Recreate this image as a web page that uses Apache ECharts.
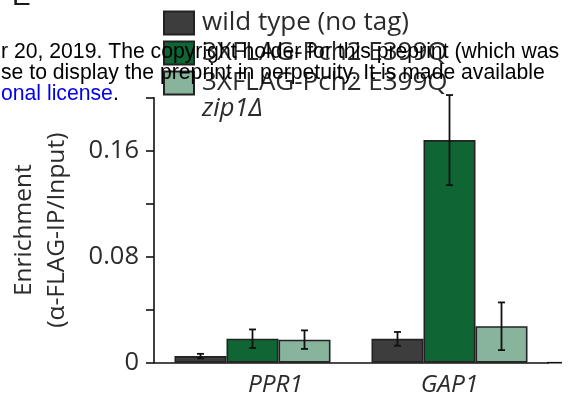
<!DOCTYPE html>
<html>
<head>
<meta charset="utf-8">
<script src="https://cdn.jsdelivr.net/npm/echarts@6/dist/echarts.min.js"></script>
<style>
html,body{margin:0;padding:0;background:#fff;}
#chart{width:574px;height:403px;}
</style>
</head>
<body>
<div id="chart"></div>
<script>
const categories = ['PPR1', 'GAP1'];
const seriesNames = ['wild type (no tag)', '3XFLAG-Pch2 E399Q', '3XFLAG-Pch2 E399Q'];
const wildTypeValues = [0.005, 0.018];
const wildTypeErrors = [0.0017, 0.0052];
const pch2Values = [0.0181, 0.168];
const pch2Errors = [0.007, 0.034];
const pch2Zip1Values = [0.0174, 0.0275];
const pch2Zip1Errors = [0.007, 0.018];
const yTickLabelValues = [0, 0.08, 0.16];
const yTickLabels = ['0', '0.08', '0.16'];

const colors = ['#3d3d3d', '#0f6534', '#88b49c'];
const BAR_W = 52;
const FONT = '"Open Sans"';
const TXT = '#2b2b2b';

const chart = echarts.init(document.getElementById('chart'), null, {renderer: 'canvas'});

function errSeries(values, errors, k) {
  return {
    type: 'custom',
    clip: false,
    silent: true,
    z: 5,
    data: values.map((v, i) => [i, v, errors[i]]),
    renderItem: function (params, api) {
      const cat = api.value(0), v = api.value(1), e = api.value(2);
      const c = api.coord([cat, v]);
      const x = c[0] + (k - 1) * BAR_W;
      const yt = api.coord([cat, v + e])[1];
      const yb = api.coord([cat, v - e])[1];
      const cap = 3.5;
      const st = {stroke: '#111', lineWidth: 1.8};
      return {
        type: 'group',
        children: [
          {type: 'line', shape: {x1: x, y1: yt, x2: x, y2: yb}, style: st},
          {type: 'line', shape: {x1: x - cap, y1: yt, x2: x + cap, y2: yt}, style: st},
          {type: 'line', shape: {x1: x - cap, y1: yb, x2: x + cap, y2: yb}, style: st}
        ]
      };
    }
  };
}

function barSeries(name, values, k) {
  return {
    name: name,
    id: 'bar' + k,
    type: 'bar',
    data: values,
    barWidth: BAR_W,
    barGap: '0%',
    itemStyle: {color: colors[k], borderColor: '#222', borderWidth: 1.6},
    emphasis: {disabled: true}
  };
}

const option = {
  animation: false,
  backgroundColor: '#fff',
  textStyle: {fontFamily: FONT},
  grid: {left: 154, right: 26, top: 97.7, bottom: 40.3, containLabel: false},
  legend: {
    orient: 'vertical',
    left: 163,
    top: 10,
    icon: 'rect',
    itemWidth: 30,
    itemHeight: 23,
    itemGap: 4,
    padding: 0,
    selectedMode: false,
    data: [
      {name: seriesNames[0]},
      {name: seriesNames[1]},
      {name: seriesNames[2] + ' '}
    ],
    textStyle: {fontFamily: FONT, fontSize: 26, color: TXT, padding: [0, 0, 0, 3], lineHeight: 23}
  },
  xAxis: {
    type: 'category',
    data: categories,
    axisLine: {lineStyle: {color: '#111', width: 1.6}},
    axisTick: {show: false},
    axisLabel: {
      margin: 10,
      formatter: v => '{' + v + '|' + v + '}',
      rich: {
        PPR1: {fontFamily: FONT, fontStyle: 'italic', fontSize: 24.5, color: TXT, padding: [0, 0, 0, 46]},
        GAP1: {fontFamily: FONT, fontStyle: 'italic', fontSize: 24.5, color: TXT}
      }
    }
  },
  yAxis: {
    type: 'value',
    min: 0,
    max: 0.2,
    interval: 0.04,
    splitLine: {show: false},
    axisLine: {show: true, lineStyle: {color: '#111', width: 1.6}},
    axisTick: {show: true, length: 8, lineStyle: {color: '#111', width: 1.6}},
    axisLabel: {
      margin: 15,
      fontFamily: FONT,
      fontSize: 25.5,
      color: TXT,
      formatter: function (v) {
        for (let i = 0; i < yTickLabelValues.length; i++) {
          if (Math.abs(v - yTickLabelValues[i]) < 1e-9) return yTickLabels[i];
        }
        return '';
      }
    },
    name: 'Enrichment\n(α-FLAG-IP/Input)',
    nameLocation: 'middle',
    nameRotate: 90,
    nameGap: 80,
    nameTextStyle: {fontFamily: FONT, fontSize: 24.5, color: TXT, lineHeight: 33}
  },
  series: [
    barSeries(seriesNames[0], wildTypeValues, 0),
    barSeries(seriesNames[1], pch2Values, 1),
    barSeries(seriesNames[2] + ' ', pch2Zip1Values, 2),
    errSeries(wildTypeValues, wildTypeErrors, 0),
    errSeries(pch2Values, pch2Errors, 1),
    errSeries(pch2Zip1Values, pch2Zip1Errors, 2)
  ],
  graphic: [
    {type: 'line', z: 10, shape: {x1: 547, y1: 362.7, x2: 562, y2: 362.7}, style: {stroke: '#111', lineWidth: 1.6}},
    {type: 'text', z: 10, left: 202, top: 96, style: {text: 'zip1Δ', font: 'italic 25.5px "Open Sans"', fill: TXT}},
    {type: 'text', z: 20, x: 12, y: -3, style: {text: 'E', font: '28px "Liberation Sans"', fill: '#1a1a1a', verticalAlign: 'middle'}},
    {type: 'text', z: 20, x: 1, y: 52.5, style: {text: 'r 20, 2019. The copyright holder for this preprint (which was', font: '21.2px "Liberation Sans"', fill: '#000', verticalAlign: 'middle'}},
    {type: 'text', z: 20, x: 1, y: 73, style: {text: 'se to display the preprint in perpetuity. It is made available', font: '21.2px "Liberation Sans"', fill: '#000', verticalAlign: 'middle'}},
    {type: 'text', z: 20, x: 1, y: 94, style: {
      text: '{b|onal license}{k|.}', verticalAlign: 'middle',
      rich: {b: {font: '21.2px "Liberation Sans"', fill: '#0000ee'}, k: {font: '21.2px "Liberation Sans"', fill: '#000'}}
    }}
  ]
};
chart.setOption(option);
</script>
</body>
</html>
